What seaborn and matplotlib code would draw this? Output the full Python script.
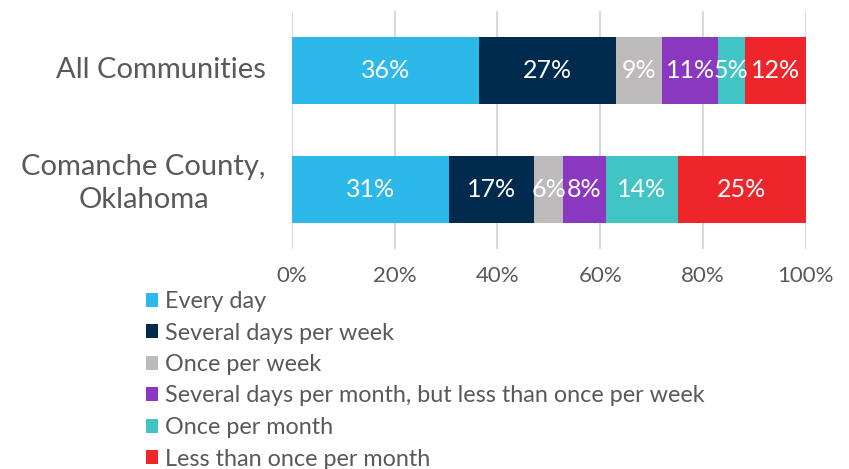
import matplotlib
matplotlib.use("Agg")
import matplotlib.pyplot as plt
import matplotlib.transforms as mtransforms
import seaborn as sns
import pandas as pd
import numpy as np
from matplotlib.patches import Patch

categories = ["All Communities", "Comanche County,\nOklahoma"]
series_names = [
    "Every day",
    "Several days per week",
    "Once per week",
    "Several days per month, but less than once per week",
    "Once per month",
    "Less than once per month",
]
all_communities = [36.4, 26.6, 9.1, 10.8, 5.2, 11.9]
comanche = [30.6, 16.6, 5.6, 8.3, 14.0, 24.9]
labels_all = ["36%", "27%", "9%", "11%", "5%", "12%"]
labels_comanche = ["31%", "17%", "6%", "8%", "14%", "25%"]
colors = ["#2DB8EA", "#002B4F", "#BCBABB", "#8A38BF", "#42C4C4", "#EE262C"]
xticks = [0, 20, 40, 60, 80, 100]
xtick_labels = ["0%", "20%", "40%", "60%", "80%", "100%"]

sns.set_theme(style="white")
plt.rcParams["font.family"] = ["Lato", "DejaVu Sans"]
text_color = "#595959"

values = np.array([all_communities, comanche])
cum = np.cumsum(values, axis=1)

fig = plt.figure(figsize=(8.49, 4.69), dpi=100)
ax = fig.add_axes([0.3436, 0.469, 0.9491 - 0.3436, 0.9765 - 0.469])

# draw cumulative layers from the outermost inward
for j in range(len(series_names) - 1, -1, -1):
    df = pd.DataFrame({"category": categories, "value": cum[:, j]})
    sns.barplot(data=df, x="value", y="category", orient="h", color=colors[j],
                saturation=1, width=0.57, ax=ax, zorder=2, linewidth=0)

label_sets = [labels_all, labels_comanche]
for i in range(len(categories)):
    left = 0.0
    for j in range(len(series_names)):
        w = values[i, j]
        ax.text(left + w / 2, i, label_sets[i][j], ha="center", va="center",
                color="white", fontsize=18, zorder=3)
        left += w

ax.set_xlim(0, 100)
ax.set_ylim(1.5, -0.5)
ax.set_xticks(xticks)
ax.set_xticklabels(xtick_labels)
ax.set_xlabel("")
ax.set_ylabel("")
ax.set_yticklabels([])
for s in ax.spines.values():
    s.set_visible(False)
ax.grid(axis="x", color="#D9D9D9", linewidth=1.5, zorder=0)
ax.set_axisbelow(True)
ax.tick_params(axis="x", colors=text_color, labelsize=16, pad=12, length=0)
ax.tick_params(axis="y", length=0)

# category labels: right-aligned block, centered lines
trans = mtransforms.blended_transform_factory(ax.transAxes, ax.transData)
for i, cat in enumerate(categories):
    nlines = cat.count("\n") + 1
    offset = mtransforms.ScaledTranslation(-26 / 100, (1 + 5 * (nlines - 1)) / 100,
                                           fig.dpi_scale_trans)
    ax.text(0, i, cat, transform=trans + offset, ha="right", va="center",
            multialignment="center", fontsize=21, color=text_color,
            linespacing=1.3)

handles = [Patch(facecolor=c, edgecolor="none") for c in colors]
fig.legend(handles, series_names, loc="upper left",
           bbox_to_anchor=(146 / 849, 1 - 291 / 469), frameon=False,
           fontsize=16.8, labelcolor=text_color, handlelength=0.52,
           handleheight=0.52, handletextpad=0.3, labelspacing=0.45,
           borderpad=0, borderaxespad=0)

fig.savefig("out.png", dpi=100)
